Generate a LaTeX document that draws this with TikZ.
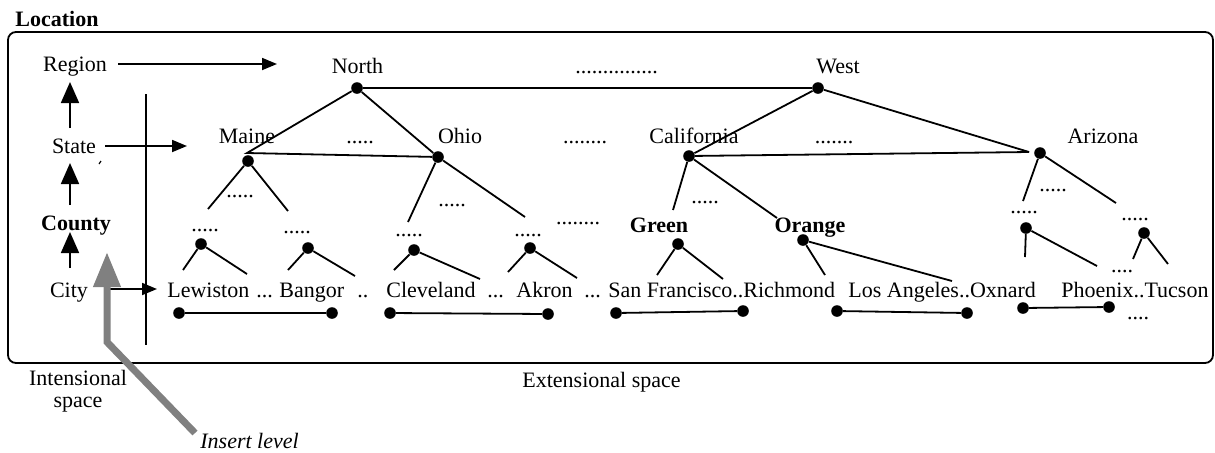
\documentclass[tikz,border=0pt]{standalone}
\usepackage{fontspec}
\setmainfont{Liberation Serif}
\usetikzlibrary{arrows.meta}
\begin{document}
\begin{tikzpicture}[x=0.5pt,y=-0.5pt,
 lbl/.style={font=\fontsize{11}{13}\selectfont, inner sep=0pt, anchor=base},
 lblw/.style={lbl, anchor=base west},
 bl/.style={lbl, font=\fontsize{11}{13}\selectfont\bfseries},
 pt/.style={circle, fill=black, inner sep=0pt, minimum size=5.8pt},
 ln/.style={line width=0.9pt},
 harr/.style={ln, -{Triangle[length=7.5pt,width=6pt]}},
 varr/.style={ln, -{Triangle[length=10.5pt,width=9pt]}},
 garr/.style={line width=3.5pt, black!50, line join=miter, -{Triangle[length=17.5pt,width=13pt]}}
]
\useasboundingbox (0,0) rectangle (1215,452);

% outer box
\draw[ln, rounded corners=4pt] (8,32) rectangle (1213,363);
\draw[line width=1.3pt] (647,363) -- (768,363);

% titles
\node[bl, anchor=base west] (loc) at (15,26) {Location};
\node[lbl] (ints1) at (78,385) {Intensional};
\node[lbl] (ints2) at (78,407) {space};
\node[lblw] (exts) at (522,387) {Extensional space};
\node[lblw, font=\fontsize{11}{13}\selectfont\itshape] (ins) at (200,448) {Insert level};

% intensional levels
\node[lbl] (region) at (75,71) {Region};
\node[lbl] (state) at (74,153) {State};
\node[bl] (county) at (76,230) {County};
\node[lbl] (city) at (69,297) {City};

\coordinate (ra1) at (118,64); \coordinate (ra2) at (277,64);
\coordinate (sa1) at (105,146); \coordinate (sa2) at (187,146);
\coordinate (ca1) at (110,289); \coordinate (ca2) at (157,289);
\coordinate (u1a) at (70,128); \coordinate (u1b) at (70,82);
\coordinate (u2a) at (70,205); \coordinate (u2b) at (70,163);
\coordinate (u3a) at (70,268); \coordinate (u3b) at (70,232);
\draw[harr] (ra1) -- (ra2);
\draw[harr] (sa1) -- (sa2);
\draw[harr] (ca1) -- (ca2);
\draw[varr] (u1a) -- (u1b);
\draw[varr] (u2a) -- (u2b);
\draw[varr] (u3a) -- (u3b);
\coordinate (sep1) at (146,94); \coordinate (sep2) at (146,345);
\draw[ln] (sep1) -- (sep2);
\coordinate (tk1) at (99,164); \coordinate (tk2) at (101,161);
\draw[line width=0.6pt] (tk1) -- (tk2);

% insert level arrow
\coordinate (g1) at (195,433); \coordinate (g2) at (107,342); \coordinate (g3) at (107,252);
\draw[garr] (g1) -- (g2) -- (g3);

% level 1
\node[lbl] (north) at (357.5,73) {North};
\node[lbl] (west) at (838,73) {West};
\node[lblw] (d15) at (575,73) {...............};
\node[pt] (dN) at (357,88) {};
\node[pt] (dW) at (818,88) {};

% level 2
\node[lbl] (maine) at (247,143) {Maine};
\node[lbl] (dm1) at (360,143) {.....};
\node[lbl] (ohio) at (460,143) {Ohio};
\node[lbl] (dm2) at (585,143) {........};
\node[lbl] (calif) at (694,143) {California};
\node[lbl] (dm3) at (834,143) {.......};
\node[lbl] (ariz) at (1103,143) {Arizona};
\node[pt] (dMa) at (248,161) {};
\node[pt] (dOh) at (438,157) {};
\node[pt] (dCa) at (689,156) {};
\node[pt] (dAz) at (1040,153) {};
\coordinate (jMa) at (247,153);
\coordinate (jAz) at (1029,152);

\draw[ln] (dN) -- (dW);
\draw[ln] (dN) -- (jMa) -- (dOh);
\draw[ln] (dN) -- (dOh);
\draw[ln] (dW) -- (dCa) -- (jAz);
\draw[ln] (dW) -- (jAz);

% level 3
\node[lbl] (c1) at (240,197) {.....};
\node[lbl] (c2) at (205,231) {.....};
\node[lbl] (c3) at (297,233) {.....};
\node[lbl] (c4) at (452,206) {.....};
\node[lbl] (c5) at (409,236) {.....};
\node[lbl] (c6) at (528,236) {.....};
\node[lbl] (c7) at (578,224) {........};
\node[lbl] (c8) at (705,203) {.....};
\node[bl] (green) at (659,232) {Green};
\node[bl] (orange) at (810,232) {Orange};
\node[lbl] (c9) at (1053,191) {.....};
\node[lbl] (c10) at (1024,213) {.....};
\node[lbl] (c11) at (1135,220) {.....};
\node[lbl] (c12) at (1122,272) {....};

\coordinate (e1) at (208,209); \coordinate (e2) at (288,211);
\coordinate (e3) at (408,222); \coordinate (e4) at (525,217);
\coordinate (e5) at (673,210); \coordinate (e6) at (777,218);
\coordinate (e7) at (1023,201); \coordinate (e8) at (1116,203);
\draw[ln] (e1) -- (dMa) -- (e2);
\draw[ln] (e3) -- (dOh) -- (e4);
\draw[ln] (e5) -- (dCa) -- (e6);
\draw[ln] (e7) -- (dAz) -- (e8);

\node[pt] (dL1) at (201,244) {};
\node[pt] (dL2) at (308,248) {};
\node[pt] (dL3) at (414,250) {};
\node[pt] (dL4) at (530,248) {};
\node[pt] (dGr) at (678,244) {};
\node[pt] (dOr) at (803,240) {};
\node[pt] (dA1) at (1026,228) {};
\node[pt] (dA2) at (1144,233) {};

\coordinate (f1) at (183,270); \coordinate (f2) at (247,274);
\coordinate (f3) at (288,270); \coordinate (f4) at (355,276);
\coordinate (f5) at (394,270); \coordinate (f6) at (480,279);
\coordinate (f7) at (508,272); \coordinate (f8) at (577,278);
\coordinate (f9) at (657,275); \coordinate (f10) at (723,279);
\coordinate (f11) at (825,275); \coordinate (f12) at (952,281);
\coordinate (f13) at (1025,257); \coordinate (f14) at (1097,266);
\coordinate (f15) at (1133,259); \coordinate (f16) at (1168,264);
\draw[ln] (f1) -- (dL1) -- (f2);
\draw[ln] (f3) -- (dL2) -- (f4);
\draw[ln] (f5) -- (dL3) -- (f6);
\draw[ln] (f7) -- (dL4) -- (f8);
\draw[ln] (f9) -- (dGr) -- (f10);
\draw[ln] (f11) -- (dOr) -- (f12);
\draw[ln] (f13) -- (dA1) -- (f14);
\draw[ln] (f15) -- (dA2) -- (f16);

% cities
\node[lblw] (lew) at (167,297) {Lewiston};
\node[lblw] (t1) at (256,297) {...};
\node[lblw] (ban) at (279,297) {Bangor};
\node[lblw] (t2) at (357,297) {..};
\node[lblw] (cle) at (386,297) {Cleveland};
\node[lblw] (t3) at (487,297) {...};
\node[lblw] (akr) at (516,297) {Akron};
\node[lblw] (t4) at (584,297) {...};
\node[lblw] (sfr) at (608,297) {San Francisco..Richmond};
\node[lblw] (los) at (848,297) {Los Angeles..Oxnard};
\node[lblw] (pho) at (1061,297) {Phoenix..Tucson};
\node[lbl] (t5) at (1138,319) {....};

% extensional ordering lines
\node[pt] (b1) at (179,313) {}; \node[pt] (b2) at (332,313) {};
\node[pt] (b3) at (390,313) {}; \node[pt] (b4) at (548,314) {};
\node[pt] (b5) at (616,313) {}; \node[pt] (b6) at (743,311) {};
\node[pt] (b7) at (837,311) {}; \node[pt] (b8) at (967,313) {};
\node[pt] (b9) at (1023,308) {}; \node[pt] (b10) at (1109,307) {};
\draw[ln] (b1) -- (b2);
\draw[ln] (b3) -- (b4);
\draw[ln] (b5) -- (b6);
\draw[ln] (b7) -- (b8);
\draw[ln] (b9) -- (b10);
\end{tikzpicture}
\end{document}
